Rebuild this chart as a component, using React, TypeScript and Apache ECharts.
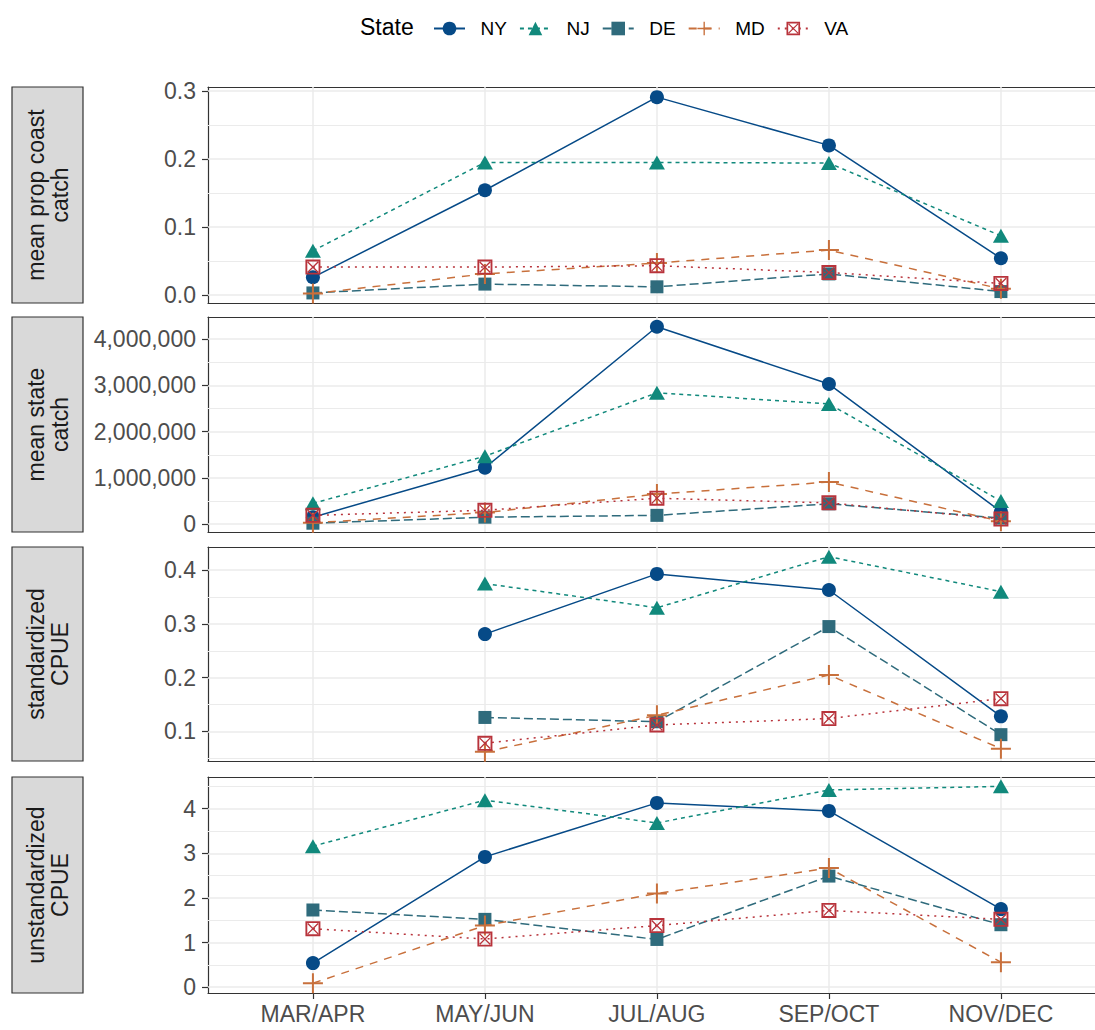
import React, { useEffect, useRef } from 'react';
import * as echarts from 'echarts';

// ---------------- data ----------------
const categories = ['MAR/APR', 'MAY/JUN', 'JUL/AUG', 'SEP/OCT', 'NOV/DEC'];
const states = ['NY', 'NJ', 'DE', 'MD', 'VA'];
const legendTitle = 'State';

const stripLabels = [
  'mean prop coast\ncatch',
  'mean state\ncatch',
  'standardized\nCPUE',
  'unstandardized\nCPUE',
];

const propCoastCatch: Record<string, (number | null)[]> = {
  NY: [0.026, 0.154, 0.291, 0.220, 0.054],
  NJ: [0.065, 0.195, 0.195, 0.194, 0.087],
  DE: [0.003, 0.016, 0.012, 0.031, 0.005],
  MD: [0.002, 0.031, 0.047, 0.066, 0.009],
  VA: [0.041, 0.041, 0.043, 0.033, 0.017],
};
const stateCatch: Record<string, (number | null)[]> = {
  NY: [150000, 1220000, 4270000, 3030000, 270000],
  NJ: [450000, 1470000, 2840000, 2600000, 500000],
  DE: [20000, 150000, 190000, 440000, 130000],
  MD: [30000, 250000, 650000, 910000, 60000],
  VA: [190000, 300000, 560000, 460000, 110000],
};
const standardizedCPUE: Record<string, (number | null)[]> = {
  NY: [null, 0.281, 0.393, 0.363, 0.128],
  NJ: [null, 0.375, 0.330, 0.425, 0.360],
  DE: [null, 0.126, 0.118, 0.295, 0.094],
  MD: [null, 0.062, 0.130, 0.205, 0.068],
  VA: [null, 0.078, 0.112, 0.124, 0.161],
};
const unstandardizedCPUE: Record<string, (number | null)[]> = {
  NY: [0.54, 2.92, 4.13, 3.95, 1.75],
  NJ: [3.16, 4.19, 3.68, 4.42, 4.50],
  DE: [1.73, 1.52, 1.07, 2.49, 1.40],
  MD: [0.09, 1.38, 2.10, 2.67, 0.56],
  VA: [1.31, 1.08, 1.38, 1.72, 1.52],
};

const propTicks = [0, 0.1, 0.2, 0.3];
const propMinor = [0.05, 0.15, 0.25];
const catchTicks = [0, 1000000, 2000000, 3000000, 4000000];
const catchMinor = [500000, 1500000, 2500000, 3500000];
const stdTicks = [0.1, 0.2, 0.3, 0.4];
const stdMinor = [0.05, 0.15, 0.25, 0.35];
const unstdTicks = [0, 1, 2, 3, 4];
const unstdMinor = [0.5, 1.5, 2.5, 3.5, 4.5];

// ---------------- styling ----------------
const FONT = '"Liberation Sans", Arial, Helvetica, sans-serif';
const AXIS_FS = 23;
const FRAME = '#333333';

const colors: Record<string, string> = {
  NY: '#064a87',
  NJ: '#11897c',
  DE: '#2f6b7c',
  MD: '#c8703c',
  VA: '#b8333b',
};
const dashes: Record<string, any> = {
  NY: 'solid',
  NJ: [4, 4],
  DE: [9, 4],
  MD: [8, 7],
  VA: [2, 5],
};
const plusPath =
  'path://M7.2,0H8.8V7.2H16V8.8H8.8V16H7.2V8.8H0V7.2H7.2Z';
const squareCrossPath =
  'path://M0,0H16V16H0Z M2,2V14H14V2Z M3,2L14,13L13,14L2,3Z M13,2L14,3L3,14L2,13Z';
const symbols: Record<string, string> = {
  NY: 'circle',
  NJ: 'triangle',
  DE: 'rect',
  MD: plusPath,
  VA: squareCrossPath,
};
const symbolSizes: Record<string, any> = {
  NY: 14,
  NJ: [16, 14],
  DE: 13,
  MD: 20,
  VA: 15,
};

const panels = [
  {
    data: propCoastCatch,
    min: -0.0118,
    max: 0.3059,
    ticks: propTicks,
    minor: propMinor,
    fmt: (v: number) => v.toFixed(1),
    top: 87,
    height: 216,
  },
  {
    data: stateCatch,
    min: -170000,
    max: 4480000,
    ticks: catchTicks,
    minor: catchMinor,
    fmt: (v: number) => Math.round(v).toLocaleString('en-US'),
    top: 317,
    height: 215,
  },
  {
    data: standardizedCPUE,
    min: 0.045,
    max: 0.443,
    ticks: stdTicks,
    minor: stdMinor,
    fmt: (v: number) => v.toFixed(1),
    top: 547,
    height: 214,
  },
  {
    data: unstandardizedCPUE,
    min: -0.13,
    max: 4.71,
    ticks: unstdTicks,
    minor: unstdMinor,
    fmt: (v: number) => String(Math.round(v)),
    top: 777,
    height: 216,
  },
];

const catIdx = categories.map((_, i) => i);
const X_MIN = -0.61;
const X_MAX = 4.547;

function buildOption() {
  const grid = panels.map((p) => ({
    left: 208,
    top: p.top,
    width: 887,
    height: p.height,
    show: false,
  }));

  const xAxisBottom = panels.map((_, i) => ({
    type: 'value',
    gridIndex: i,
    position: 'bottom',
    min: X_MIN,
    max: X_MAX,
    axisLine: { show: true, onZero: false, lineStyle: { color: FRAME, width: 1.2 } },
    splitLine: { show: false },
    axisTick: {
      show: i === panels.length - 1,
      length: 6,
      lineStyle: { color: FRAME, width: 1.2 },
      customValues: catIdx,
    },
    axisLabel: {
      show: i === panels.length - 1,
      customValues: catIdx,
      formatter: (v: number) => categories[Math.round(v)] ?? '',
      fontSize: AXIS_FS,
      color: '#4d4d4d',
      fontFamily: FONT,
      margin: 9,
    },
  }));
  const xAxisTop = panels.map((_, i) => ({
    type: 'value',
    gridIndex: i,
    position: 'top',
    min: X_MIN,
    max: X_MAX,
    axisLine: { show: true, onZero: false, lineStyle: { color: FRAME, width: 1.2 } },
    splitLine: { show: false },
    axisTick: { show: false },
    axisLabel: { show: false },
  }));

  const yAxis = panels.map((p, i) => ({
    type: 'value',
    gridIndex: i,
    min: p.min,
    max: p.max,
    axisLine: { show: true, onZero: false, lineStyle: { color: FRAME, width: 1.2 } },
    splitLine: { show: false },
    axisTick: {
      show: true,
      length: 6,
      lineStyle: { color: FRAME, width: 1.2 },
      customValues: p.ticks,
    },
    axisLabel: {
      show: true,
      customValues: p.ticks,
      formatter: (v: number) => p.fmt(v),
      fontSize: AXIS_FS,
      color: '#4d4d4d',
      fontFamily: FONT,
      margin: 12,
    },
  }));

  const series: any[] = [];
  panels.forEach((p, i) => {
    states.forEach((s, k) => {
      const pts = p.data[s]
        .map((v, j) => (v === null ? null : [j, v]))
        .filter((d) => d !== null);
      const ser: any = {
        type: 'line',
        name: s,
        xAxisIndex: i,
        yAxisIndex: i,
        data: pts,
        symbol: symbols[s],
        symbolSize: symbolSizes[s],
        showSymbol: true,
        color: colors[s],
        itemStyle: { color: colors[s], borderWidth: 0 },
        lineStyle: { color: colors[s], width: 1.5, type: dashes[s] },
        emphasis: { disabled: true },
        z: 3 + k,
      };
      if (k === 0) {
        ser.markLine = {
          silent: true,
          z: 1,
          animation: false,
          symbol: ['none', 'none'],
          label: { show: false },
          emphasis: { disabled: true },
          lineStyle: { color: '#ebebeb', type: 'solid', width: 1.5 },
          data: [
            ...p.ticks.map((v) => ({ yAxis: v })),
            ...p.minor.map((v) => ({ yAxis: v, lineStyle: { color: '#ebebeb', type: 'solid', width: 1 } })),
            ...catIdx.map((j) => ({ xAxis: j })),
          ],
        };
      }
      series.push(ser);
    });
  });

  const graphic: any[] = [];
  panels.forEach((p, i) => {
    graphic.push({
      type: 'rect',
      shape: { x: 12, y: p.top, width: 71, height: p.height },
      style: { fill: '#d9d9d9', stroke: FRAME, lineWidth: 1.2 },
      silent: true,
    });
    graphic.push({
      type: 'text',
      x: 47.5,
      y: p.top + p.height / 2,
      rotation: Math.PI / 2,
      style: {
        text: stripLabels[i],
        fill: '#1a1a1a',
        font: `${AXIS_FS}px ${FONT}`,
        align: 'center',
        verticalAlign: 'middle',
        lineHeight: 24,
      },
      silent: true,
    });
  });
  graphic.push({
    type: 'text',
    x: 360,
    y: 27,
    style: {
      text: legendTitle,
      fill: '#000000',
      font: `23px ${FONT}`,
      align: 'left',
      verticalAlign: 'middle',
    },
    silent: true,
  });

  return {
    animation: false,
    backgroundColor: '#ffffff',
    grid,
    xAxis: [...xAxisBottom, ...xAxisTop],
    yAxis,
    series,
    graphic,
    legend: {
      data: states,
      left: 428,
      top: 14,
      itemWidth: 31,
      itemHeight: 17,
      itemGap: 12,
      formatter: (n: string) => '  ' + n,
      textStyle: { fontSize: 19, color: '#000000', fontFamily: FONT },
      selectedMode: false,
    },
  };
}

export default function App() {
  const ref = useRef<HTMLDivElement>(null);
  useEffect(() => {
    if (!ref.current) return;
    const chart = echarts.init(ref.current, null, { renderer: 'svg' });
    chart.setOption(buildOption() as any);
    return () => chart.dispose();
  }, []);
  return (
    <div
      ref={ref}
      style={{ position: 'absolute', left: 0, top: 0, width: 1095, height: 1030, background: '#ffffff' }}
    />
  );
}
